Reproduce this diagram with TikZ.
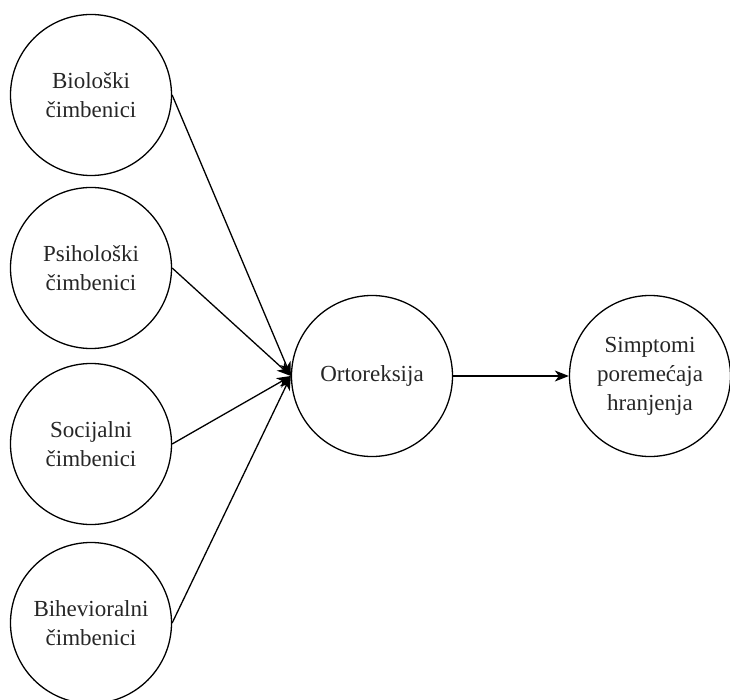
\documentclass[tikz,border=0pt]{standalone}
\usepackage{fontspec}
\setmainfont{Liberation Serif}
\usetikzlibrary{arrows.meta}
\begin{document}
\begin{tikzpicture}[x=1pt,y=-1pt,
  bubble/.style={draw, circle, line width=1.3pt, minimum size=161pt, inner sep=0pt,
    align=center, font=\fontsize{23}{29}\selectfont, text=black!85},
  link/.style={line width=1.3pt, -{Stealth[length=14pt,width=11pt,inset=4pt]}}]
\useasboundingbox (0,0) rectangle (730,700);
\begin{scope}
\clip (0,0) rectangle (730,700);
\node[bubble] (bio) at (91,95) {Biološki\\čimbenici};
\node[bubble] (psi) at (91,268) {Psihološki\\čimbenici};
\node[bubble] (soc) at (91,444) {Socijalni\\čimbenici};
\node[bubble] (beh) at (91,623) {Bihevioralni\\čimbenici};
\node[bubble] (ort) at (372,376) {Ortoreksija};
\node[bubble] (sim) at (650,376) {Simptomi\\poremećaja\\hranjenja};
\draw[link] (bio.east) -- (ort.west);
\draw[link] (psi.east) -- (ort.west);
\draw[link] (soc.east) -- (ort.west);
\draw[link] (beh.east) -- (ort.west);
\draw[link] (ort.east) -- (sim.west);
\end{scope}
\end{tikzpicture}
\end{document}
